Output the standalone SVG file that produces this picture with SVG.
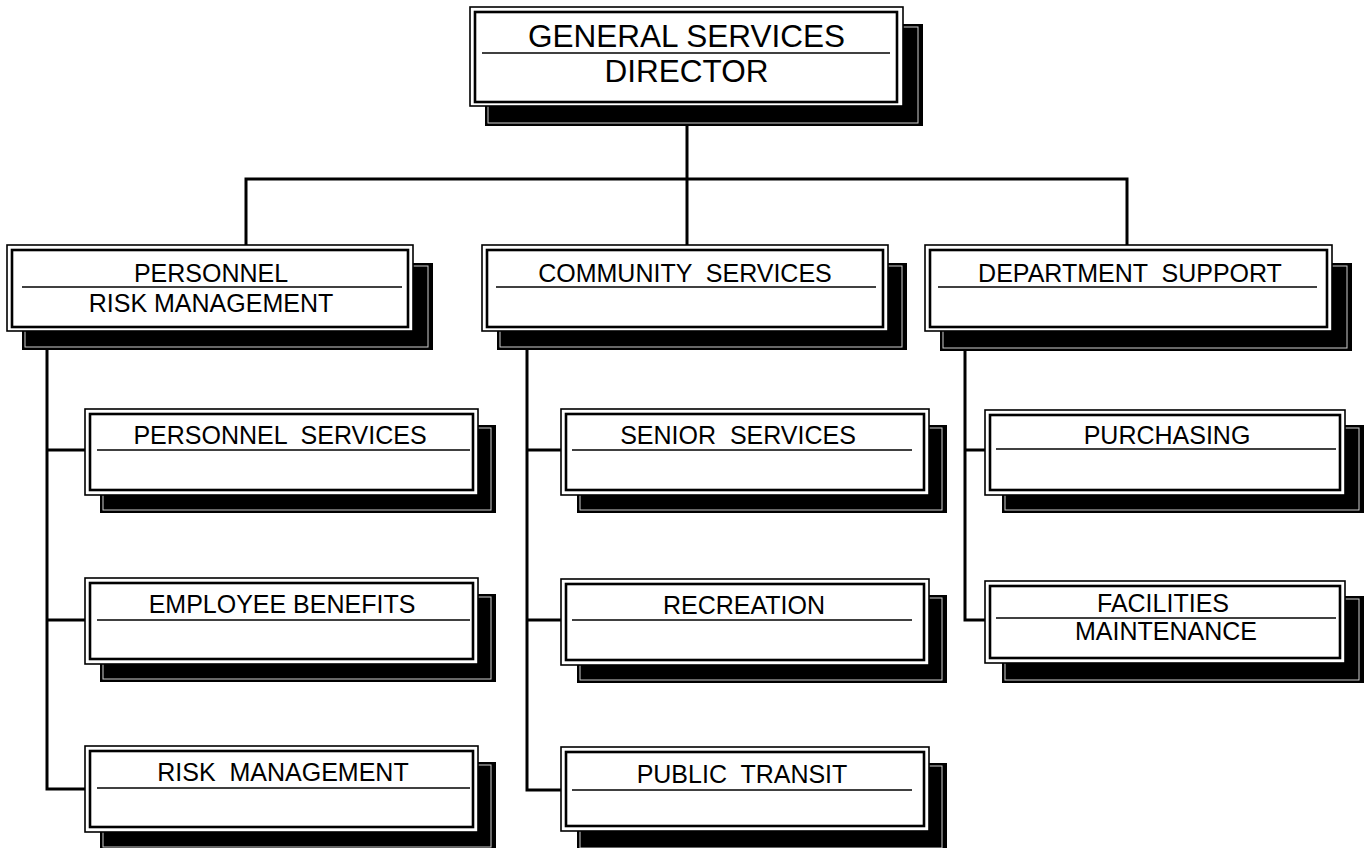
<svg xmlns="http://www.w3.org/2000/svg" width="1365" height="848" viewBox="0 0 1365 848">
<style>
.bg{fill:#ffffff}
.conn{stroke:#000;stroke-width:3;fill:none;stroke-linecap:square}
.shadow{fill:#000}
.shline{fill:none;stroke:#cfcfcf;stroke-width:1}
.outer{fill:#fff;stroke:#000;stroke-width:1.6}
.inner{fill:none;stroke:#000;stroke-width:2.6}
.sep{stroke:#000;stroke-width:1.6}
.t{font-family:"Liberation Sans",Arial,sans-serif;font-size:25px;fill:#000;text-anchor:middle;white-space:pre}
.tb{font-family:"Liberation Sans",Arial,sans-serif;font-size:31.5px;fill:#000;text-anchor:middle;white-space:pre}
</style>
<rect class="bg" x="0" y="0" width="1365" height="848"/>
<g id="connectors">
<path class="conn" d="M687 106 V179 M246 179 H1127 M246 179 V245 M687 179 V245 M1127 179 V245"/>
<path class="conn" d="M47 331 V789 M47 450 H85 M47 620 H85 M47 789 H85"/>
<path class="conn" d="M527 331 V790 M527 450 H561 M527 620 H561 M527 790 H561"/>
<path class="conn" d="M965 331 V620 M965 450 H985 M965 620 H985"/>
</g>
<g id="director">
<rect class="shadow" x="485" y="24" width="438" height="102"/>
<rect class="shline" x="488" y="27" width="430" height="96"/>
<rect class="outer" x="470" y="7" width="433" height="99"/>
<rect class="inner" x="475" y="12" width="422" height="90"/>
<line class="sep" x1="482" y1="53" x2="890" y2="53"/>
<text class="tb" x="686.5" y="47">GENERAL SERVICES</text>
<text class="tb" x="686.5" y="82">DIRECTOR</text>
</g>
<g id="personnel-risk">
<rect class="shadow" x="22" y="263" width="411" height="87"/>
<rect class="shline" x="25" y="266" width="403" height="81"/>
<rect class="outer" x="7" y="245" width="406" height="86"/>
<rect class="inner" x="12" y="250" width="396" height="77"/>
<line class="sep" x1="22" y1="287" x2="402" y2="287"/>
<text class="t" x="211" y="282">PERSONNEL</text>
<text class="t" x="211" y="312">RISK MANAGEMENT</text>
</g>
<g id="community-services">
<rect class="shadow" x="497" y="263" width="410" height="87"/>
<rect class="shline" x="500" y="266" width="402" height="81"/>
<rect class="outer" x="482" y="245" width="406" height="86"/>
<rect class="inner" x="487" y="250" width="396" height="77"/>
<line class="sep" x1="496" y1="287" x2="876" y2="287"/>
<text class="t" x="685" y="282">COMMUNITY  SERVICES</text>
</g>
<g id="department-support">
<rect class="shadow" x="940" y="263" width="412" height="88"/>
<rect class="shline" x="943" y="266" width="404" height="82"/>
<rect class="outer" x="925" y="245" width="407" height="86"/>
<rect class="inner" x="930" y="250" width="397" height="77"/>
<line class="sep" x1="938" y1="287" x2="1317" y2="287"/>
<text class="t" x="1130" y="282">DEPARTMENT  SUPPORT</text>
</g>
<g id="personnel-services">
<rect class="shadow" x="100" y="425" width="396" height="88"/>
<rect class="shline" x="103" y="428" width="388" height="82"/>
<rect class="outer" x="85" y="409" width="393" height="86"/>
<rect class="inner" x="90" y="414" width="383" height="76"/>
<line class="sep" x1="97" y1="450" x2="470" y2="450"/>
<text class="t" x="280" y="444">PERSONNEL  SERVICES</text>
</g>
<g id="employee-benefits">
<rect class="shadow" x="100" y="594" width="396" height="88"/>
<rect class="shline" x="103" y="597" width="388" height="82"/>
<rect class="outer" x="85" y="578" width="393" height="86"/>
<rect class="inner" x="90" y="583" width="383" height="76"/>
<line class="sep" x1="97" y1="620" x2="470" y2="620"/>
<text class="t" x="282" y="613">EMPLOYEE BENEFITS</text>
</g>
<g id="risk-management">
<rect class="shadow" x="100" y="762" width="396" height="88"/>
<rect class="shline" x="103" y="765" width="388" height="82"/>
<rect class="outer" x="85" y="746" width="393" height="86"/>
<rect class="inner" x="90" y="751" width="383" height="76"/>
<line class="sep" x1="97" y1="788" x2="470" y2="788"/>
<text class="t" x="283" y="781">RISK  MANAGEMENT</text>
</g>
<g id="senior-services">
<rect class="shadow" x="577" y="425" width="370" height="88"/>
<rect class="shline" x="580" y="428" width="362" height="82"/>
<rect class="outer" x="561" y="409" width="368" height="86"/>
<rect class="inner" x="566" y="414" width="358" height="76"/>
<line class="sep" x1="572" y1="450" x2="912" y2="450"/>
<text class="t" x="738" y="444">SENIOR  SERVICES</text>
</g>
<g id="recreation">
<rect class="shadow" x="577" y="595" width="370" height="88"/>
<rect class="shline" x="580" y="598" width="362" height="82"/>
<rect class="outer" x="561" y="579" width="368" height="86"/>
<rect class="inner" x="566" y="584" width="358" height="76"/>
<line class="sep" x1="572" y1="620" x2="912" y2="620"/>
<text class="t" x="744" y="614">RECREATION</text>
</g>
<g id="public-transit">
<rect class="shadow" x="577" y="763" width="370" height="88"/>
<rect class="shline" x="580" y="766" width="362" height="82"/>
<rect class="outer" x="561" y="747" width="368" height="84"/>
<rect class="inner" x="566" y="752" width="358" height="74"/>
<line class="sep" x1="572" y1="790" x2="912" y2="790"/>
<text class="t" x="742" y="783">PUBLIC  TRANSIT</text>
</g>
<g id="purchasing">
<rect class="shadow" x="1002" y="425" width="362" height="88"/>
<rect class="shline" x="1005" y="428" width="354" height="82"/>
<rect class="outer" x="985" y="410" width="360" height="85"/>
<rect class="inner" x="990" y="415" width="350" height="75"/>
<line class="sep" x1="996" y1="449" x2="1336" y2="449"/>
<text class="t" x="1167" y="444">PURCHASING</text>
</g>
<g id="facilities-maintenance">
<rect class="shadow" x="1002" y="596" width="362" height="87"/>
<rect class="shline" x="1005" y="599" width="354" height="81"/>
<rect class="outer" x="985" y="581" width="360" height="82"/>
<rect class="inner" x="990" y="586" width="350" height="72"/>
<line class="sep" x1="996" y1="618" x2="1336" y2="618"/>
<text class="t" x="1163" y="612">FACILITIES</text>
<text class="t" x="1166" y="640">MAINTENANCE</text>
</g>
</svg>
